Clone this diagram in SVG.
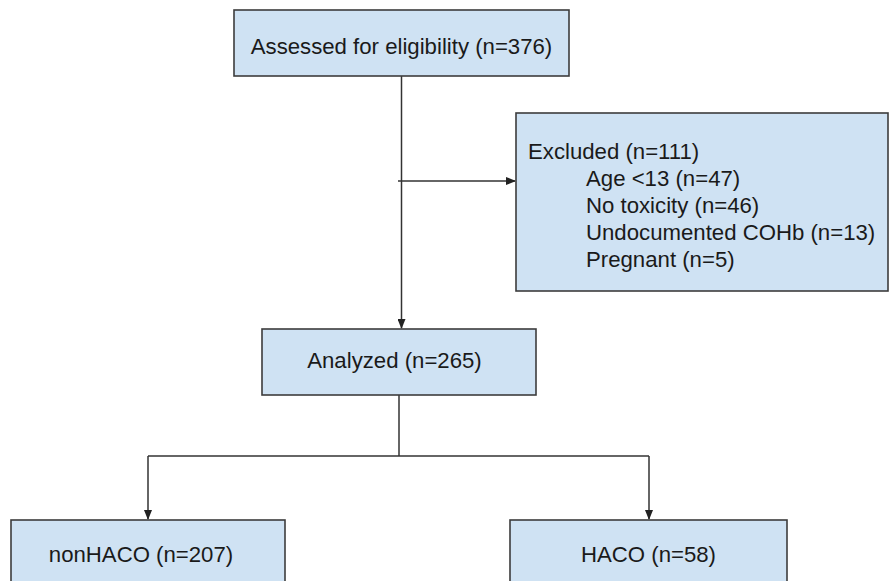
<svg xmlns="http://www.w3.org/2000/svg" width="890" height="581" viewBox="0 0 890 581">
<style>
.box{fill:#cfe2f3;stroke:#3c3c3c;stroke-width:1.6}
.t{font-family:"Liberation Sans",Arial,sans-serif;font-size:22.2px;fill:#1a1a1a}
.c{text-anchor:middle}
.ln{fill:none;stroke:#333;stroke-width:1.5}
</style>
<defs>
<marker id="ah" markerWidth="10" markerHeight="8" refX="9" refY="4" orient="auto" markerUnits="userSpaceOnUse">
<path d="M0,0 L10,4 L0,8 Z" fill="#222"/>
</marker>
</defs>
<rect width="890" height="581" fill="#fff"/>
<g id="connectors">
<path class="ln" d="M401.5,76 V328" marker-end="url(#ah)"/>
<path class="ln" d="M398,181 H515" marker-end="url(#ah)"/>
<path class="ln" d="M399,395 V456"/>
<path class="ln" d="M148,456 H649"/>
<path class="ln" d="M148,456 V519" marker-end="url(#ah)"/>
<path class="ln" d="M649,456 V519" marker-end="url(#ah)"/>
</g>
<g id="assessed">
<rect class="box" x="234" y="10" width="335" height="66"/>
<text class="t c" x="401.5" y="53.5">Assessed for eligibility (n=376)</text>
</g>
<g id="excluded">
<rect class="box" x="516" y="113" width="372" height="178"/>
<text class="t" x="528" y="158.5">Excluded (n=111)</text>
<text class="t" x="586" y="185.5">Age &lt;13 (n=47)</text>
<text class="t" x="586" y="212.5">No toxicity (n=46)</text>
<text class="t" x="586" y="239.5">Undocumented COHb (n=13)</text>
<text class="t" x="586" y="266.5">Pregnant (n=5)</text>
</g>
<g id="analyzed">
<rect class="box" x="262" y="329" width="274" height="66"/>
<text class="t c" x="394.5" y="367.5">Analyzed (n=265)</text>
</g>
<g id="nonhaco">
<rect class="box" x="11" y="520" width="274" height="80"/>
<text class="t c" x="141" y="562">nonHACO (n=207)</text>
</g>
<g id="haco">
<rect class="box" x="510" y="520" width="277" height="80"/>
<text class="t c" x="648.5" y="562">HACO (n=58)</text>
</g>
</svg>
